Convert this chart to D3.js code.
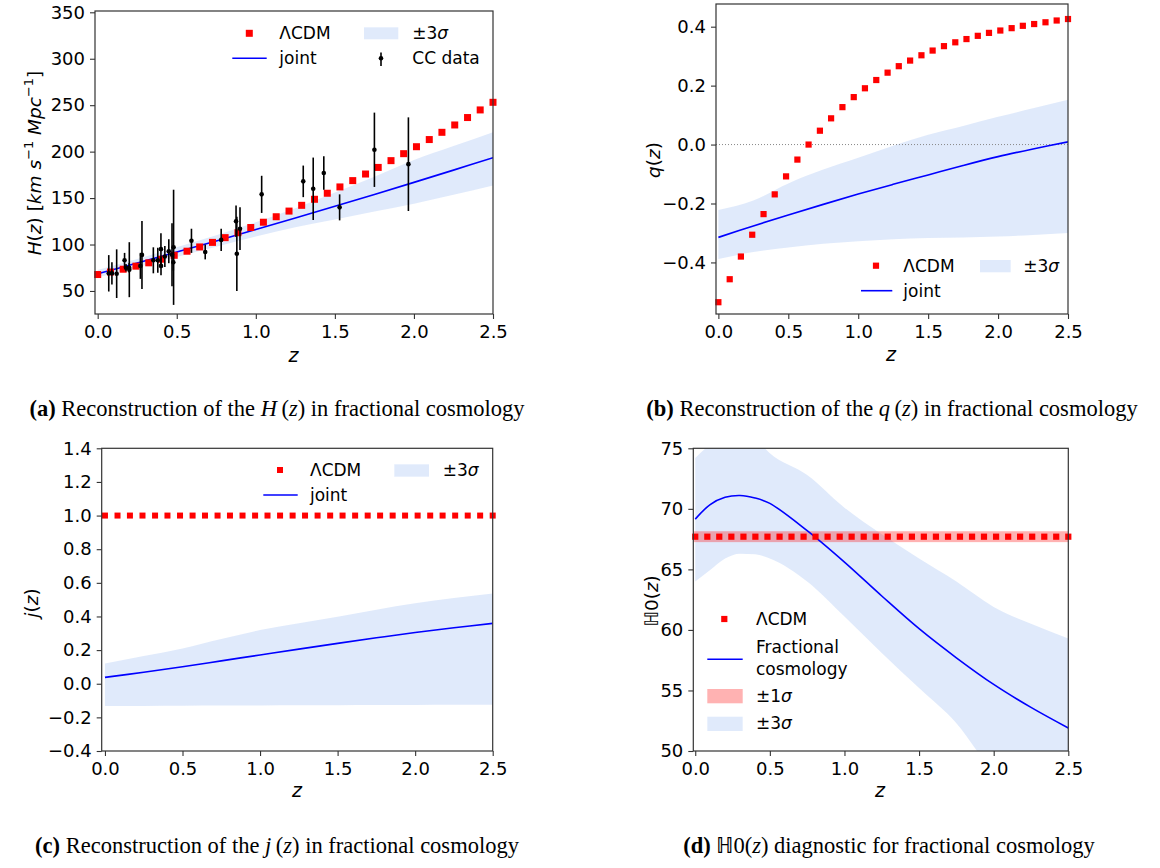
<!DOCTYPE html>
<html>
<head>
<meta charset="utf-8">
<script src="https://cdn.jsdelivr.net/npm/d3@7/dist/d3.min.js"></script>
<style>
body { margin: 0; background: #fff; }
svg { font-family: "DejaVu Sans", sans-serif; }
.cap { font-family: "Liberation Serif", "Times New Roman", serif; font-size: 22.5px; }
</style>
</head>
<body>
<svg width="1160" height="868"></svg>
<script>
var svg = d3.select('svg');

// LCDM reference curve, sampled every ~0.08 in z
var zLCDM = [0, 0.081, 0.161, 0.242, 0.323, 0.403, 0.484, 0.565, 0.645, 0.726, 0.806, 0.887, 0.968, 1.048, 1.129, 1.210,
             1.290, 1.371, 1.452, 1.532, 1.613, 1.694, 1.774, 1.855, 1.935, 2.016, 2.097, 2.177, 2.258, 2.339, 2.419, 2.5];
var hLCDM = [67.7, 70.4, 73.4, 76.7, 80.3, 84.2, 88.4, 92.8, 97.4, 102.3, 107.4, 112.7, 118.3, 124.0, 129.9, 136.0,
             142.2, 148.7, 155.2, 162.0, 168.8, 175.9, 183.0, 190.3, 197.8, 205.3, 213.0, 220.8, 228.7, 236.7, 244.9, 253.1];
var qLCDM = [-0.535, -0.457, -0.380, -0.306, -0.236, -0.169, -0.108, -0.051, 0.000, 0.047, 0.089, 0.127, 0.161, 0.191, 0.219, 0.244,
             0.266, 0.285, 0.303, 0.319, 0.334, 0.347, 0.358, 0.369, 0.379, 0.387, 0.395, 0.403, 0.409, 0.415, 0.421, 0.426];
var jLCDM = zLCDM.map(function(){ return 1.0; });
var diagLCDM = zLCDM.map(function(){ return 67.7; });
var diagLCDMlow = 67.25, diagLCDMhigh = 68.15;

// joint reconstruction (a, b, c)
var zGrid = [0, 0.25, 0.5, 0.75, 1, 1.25, 1.5, 1.75, 2, 2.25, 2.5];
var hJoint = [68.5, 80.1, 91.9, 103.9, 116.1, 128.5, 141.1, 153.9, 166.9, 180.1, 193.5];
var hUpper = [72.5, 84.5, 97, 110, 124, 139, 156, 173, 191, 206, 221];
var hLower = [64.5, 75.5, 86.5, 97.5, 108.5, 118.5, 127, 135.5, 144, 153.5, 163.5];

var qJoint = [-0.315, -0.276, -0.239, -0.203, -0.168, -0.135, -0.103, -0.071, -0.041, -0.015, 0.009];
var qUpper = [-0.222, -0.19, -0.132, -0.085, -0.045, -0.004, 0.033, 0.063, 0.094, 0.123, 0.152];
var qLower = [-0.388, -0.365, -0.349, -0.337, -0.328, -0.321, -0.317, -0.315, -0.312, -0.307, -0.300];

var jJoint = [0.038, 0.068, 0.101, 0.136, 0.171, 0.206, 0.240, 0.273, 0.305, 0.333, 0.359];
var jUpper = [0.121, 0.165, 0.210, 0.266, 0.319, 0.360, 0.398, 0.440, 0.478, 0.510, 0.537];
var jLower = [-0.133, -0.132, -0.131, -0.130, -0.129, -0.128, -0.128, -0.127, -0.126, -0.125, -0.125];

// H0 diagnostic (d)
var zDiag = [0, 0.1, 0.2, 0.3, 0.4, 0.5, 0.75, 1, 1.25, 1.5, 1.75, 2, 2.25, 2.5];
var diagLine = [69.15, 70.35, 70.95, 71.1, 70.9, 70.45, 68.2, 65.6, 62.8, 60.1, 57.7, 55.5, 53.6, 51.9];
var diagUpper = [74.2, 75.3, 76.0, 76.3, 75.8, 74.6, 72.8, 70.1, 67.9, 65.9, 64.0, 61.9, 60.5, 59.3];
var diagLower = [64.0, 64.95, 65.9, 66.3, 66.25, 65.9, 64.0, 61.1, 58.1, 55.2, 52.3, 48.2, 45.5, 43.0];

// cosmic chronometer data
var ccZ   = [0.07, 0.09, 0.12, 0.17, 0.179, 0.199, 0.2, 0.27, 0.28, 0.352, 0.3802, 0.4, 0.4004, 0.4247, 0.4497, 0.47,
             0.4783, 0.48, 0.593, 0.68, 0.781, 0.875, 0.88, 0.9, 1.037, 1.3, 1.363, 1.43, 1.53, 1.75, 1.965];
var ccH   = [69, 69, 68.6, 83, 75, 75, 72.9, 77, 88.8, 83, 83, 95, 77, 87.1, 92.8, 89,
             80.9, 97, 104, 92, 105, 125, 90, 117, 154, 168, 160, 177, 140, 202, 186.5];
var ccErr = [19.6, 12, 26.2, 8, 4, 5, 29.6, 14, 36.6, 14, 13.5, 17, 10.2, 11.2, 12.9, 34,
             9, 62, 13, 8, 12, 17, 40, 23, 20, 17, 33.6, 18, 14, 40, 50.4];

var xTicks = [0, 0.5, 1, 1.5, 2, 2.5];

var bandColor = 'cornflowerblue', bandOpacity = 0.2;

function panel(box, xDom, yDom, yTicks, yFmt, id){
  var x = d3.scaleLinear().domain(xDom).range([box.left, box.right]);
  var y = d3.scaleLinear().domain(yDom).range([box.bottom, box.top]);
  svg.append('clipPath').attr('id', id).append('rect')
    .attr('x', box.left).attr('y', box.top)
    .attr('width', box.right - box.left).attr('height', box.bottom - box.top);
  var g = svg.append('g');
  var plot = g.append('g').attr('clip-path', 'url(#' + id + ')');
  return {x: x, y: y, g: g, plot: plot, box: box, yTicks: yTicks, yFmt: yFmt};
}

function axes(p){
  var b = p.box;
  var ax = p.g.append('g').attr('transform', 'translate(0,' + b.bottom + ')')
    .call(d3.axisBottom(p.x).tickValues(xTicks).tickFormat(d3.format('.1f')).tickSize(5).tickPadding(6).tickSizeOuter(0));
  var ay = p.g.append('g').attr('transform', 'translate(' + b.left + ',0)')
    .call(d3.axisLeft(p.y).tickValues(p.yTicks).tickFormat(d3.format(p.yFmt)).tickSize(5).tickPadding(5).tickSizeOuter(0));
  [ax, ay].forEach(function(a){
    a.select('.domain').remove();
    a.selectAll('line').attr('stroke', '#333').attr('stroke-width', 1.1);
    a.selectAll('text').attr('font-size', 18).attr('font-family', '"DejaVu Sans", sans-serif').attr('fill', '#000');
  });
  p.g.append('rect').attr('x', b.left).attr('y', b.top)
    .attr('width', b.right - b.left).attr('height', b.bottom - b.top)
    .attr('fill', 'none').attr('stroke', '#333').attr('stroke-width', 1.2);
}

function band(p, zs, lo, hi){
  var area = d3.area().x(function(d, i){ return p.x(zs[i]); })
    .y0(function(d, i){ return p.y(lo[i]); })
    .y1(function(d, i){ return p.y(hi[i]); })
    .curve(d3.curveMonotoneX);
  p.plot.append('path').datum(zs).attr('d', area).attr('fill', bandColor).attr('fill-opacity', bandOpacity);
}

function line(p, zs, vals){
  var ln = d3.line().x(function(d, i){ return p.x(zs[i]); })
    .y(function(d, i){ return p.y(vals[i]); })
    .curve(d3.curveCatmullRom.alpha(0.5));
  p.plot.append('path').datum(zs).attr('d', ln).attr('fill', 'none').attr('stroke', '#0000ff').attr('stroke-width', 1.6);
}

function squares(p, zs, vals, s){
  p.g.selectAll(null).data(zs).enter().append('rect')
    .attr('x', function(d){ return p.x(d) - s / 2; })
    .attr('y', function(d, i){ return p.y(vals[i]) - s / 2; })
    .attr('width', s).attr('height', s).attr('fill', '#ff0000');
}

// legend helpers (pixel positions)
function legText(x, y, parts, size){
  var t = svg.append('text').attr('x', x).attr('y', y + 6).attr('font-size', size || 17);
  parts.forEach(function(pt){
    var s = t.append('tspan').text(pt[0]);
    if (pt[1]) s.attr('font-style', 'italic');
  });
}
function legSquare(x, y, s){
  svg.append('rect').attr('x', x - s / 2).attr('y', y - s / 2).attr('width', s).attr('height', s).attr('fill', '#ff0000');
}
function legLine(x1, x2, y){
  svg.append('line').attr('x1', x1).attr('x2', x2).attr('y1', y).attr('y2', y).attr('stroke', '#0000ff').attr('stroke-width', 1.6);
}
function legBand(x1, x2, y1, y2, col, op){
  svg.append('rect').attr('x', x1).attr('y', y1).attr('width', x2 - x1).attr('height', y2 - y1)
    .attr('fill', col).attr('fill-opacity', op);
}

function rotLabel(x, y, parts, size){
  var t = svg.append('text').attr('transform', 'translate(' + x + ',' + y + ') rotate(-90)')
    .attr('text-anchor', 'middle').attr('dominant-baseline', 'central').attr('font-size', size || 18);
  parts.forEach(function(pt){
    var s = t.append('tspan').text(pt[0]);
    if (pt[1] === 'i') s.attr('font-style', 'italic');
    if (pt[1] === 'sup') s.attr('font-size', (size || 18) * 0.7).attr('baseline-shift', '40%');
  });
}
function zLabel(x, y){
  svg.append('text').attr('x', x).attr('y', y).attr('text-anchor', 'middle')
    .attr('font-size', 19).attr('font-style', 'italic').text('z');
}

var sigma3 = [['±3', false], ['σ', true]];
var sigma1 = [['±1', false], ['σ', true]];

// ---------- (a) H(z) ----------
var pa = panel({left: 95, right: 493, top: 11, bottom: 314}, [-0.017, 2.5], [25.2, 351.4],
               [50, 100, 150, 200, 250, 300, 350], 'd', 'clipA');
band(pa, zGrid, hLower, hUpper);
squares(pa, zLCDM, hLCDM, 7);
line(pa, zGrid, hJoint);
pa.g.selectAll(null).data(ccZ).enter().append('line')
  .attr('x1', function(d){ return pa.x(d); }).attr('x2', function(d){ return pa.x(d); })
  .attr('y1', function(d, i){ return pa.y(ccH[i] - ccErr[i]); })
  .attr('y2', function(d, i){ return pa.y(ccH[i] + ccErr[i]); })
  .attr('stroke', '#000').attr('stroke-width', 1.6);
pa.g.selectAll(null).data(ccZ).enter().append('circle')
  .attr('cx', function(d){ return pa.x(d); })
  .attr('cy', function(d, i){ return pa.y(ccH[i]); })
  .attr('r', 2.3).attr('fill', '#000');
axes(pa);
legSquare(249.3, 33.3, 7);
legText(279.3, 33.3, [['ΛCDM', false]]);
legBand(364, 398.3, 27.3, 39.3, bandColor, bandOpacity);
legText(412.3, 33.3, sigma3);
legLine(232.3, 266.7, 58.3);
legText(279.3, 58.3, [['joint', false]]);
svg.append('line').attr('x1', 381).attr('x2', 381).attr('y1', 52.5).attr('y2', 66).attr('stroke', '#000').attr('stroke-width', 1.6);
svg.append('circle').attr('cx', 381).attr('cy', 58.3).attr('r', 2.3).attr('fill', '#000');
legText(412.3, 58.3, [['CC data', false]]);
rotLabel(34, 163, [['H', 'i'], ['(', ''], ['z', 'i'], [') [', ''], ['km', 'i'], [' ', ''], ['s', 'i'], ['−1', 'sup'],
                   [' ', ''], ['Mpc', 'i'], ['−1', 'sup'], [']', '']], 18.5);
zLabel(293.5, 362);

// ---------- (b) q(z) ----------
var pb = panel({left: 716, right: 1068, top: 4, bottom: 314}, [-0.017, 2.5], [-0.575, 0.477],
               [-0.4, -0.2, 0, 0.2, 0.4], '.1f', 'clipB');
band(pb, zGrid, qLower, qUpper);
pb.plot.append('line').attr('x1', pb.box.left).attr('x2', pb.box.right)
  .attr('y1', pb.y(0)).attr('y2', pb.y(0))
  .attr('stroke', '#888').attr('stroke-width', 1).attr('stroke-dasharray', '1,2');
line(pb, zGrid, qJoint);
squares(pb, zLCDM, qLCDM, 6.2);
axes(pb);
legSquare(876, 265.7, 6.2);
legText(903.3, 265.7, [['ΛCDM', false]]);
legBand(980, 1010.7, 260, 272.3, bandColor, bandOpacity);
legText(1023.3, 265.7, sigma3);
legLine(861, 892.3, 290.7);
legText(903.3, 290.7, [['joint', false]]);
rotLabel(653, 160, [['q', 'i'], ['(', ''], ['z', 'i'], [')', '']], 18.5);
zLabel(891, 361);

// ---------- (c) j(z) ----------
var pc = panel({left: 101.7, right: 492.7, top: 448.3, bottom: 751}, [-0.021, 2.5], [-0.4, 1.4],
               [-0.4, -0.2, 0, 0.2, 0.4, 0.6, 0.8, 1.0, 1.2, 1.4], '.1f', 'clipC');
band(pc, zGrid, jLower, jUpper);
line(pc, zGrid, jJoint);
squares(pc, zLCDM, jLCDM, 6);
axes(pc);
legSquare(280, 470, 6);
legText(310, 470, [['ΛCDM', false]]);
legBand(394.3, 429, 464.3, 476.7, bandColor, bandOpacity);
legText(442.7, 470, sigma3);
legLine(263.3, 297.7, 495);
legText(310, 495, [['joint', false]]);
rotLabel(31, 603, [['j', 'i'], ['(', ''], ['z', 'i'], [')', '']], 18.5);
zLabel(297, 797);

// ---------- (d) H0(z) diagnostic ----------
var pd = panel({left: 693.3, right: 1068.3, top: 448.3, bottom: 751}, [-0.013, 2.5], [50, 75],
               [50, 55, 60, 65, 70, 75], 'd', 'clipD');
band(pd, zDiag, diagLower, diagUpper);
pd.plot.append('rect').attr('x', pd.box.left).attr('width', pd.box.right - pd.box.left)
  .attr('y', pd.y(diagLCDMhigh)).attr('height', pd.y(diagLCDMlow) - pd.y(diagLCDMhigh))
  .attr('fill', '#ff0000').attr('fill-opacity', 0.3);
line(pd, zDiag, diagLine);
squares(pd, zLCDM, diagLCDM, 6.2);
axes(pd);
legSquare(724.3, 619, 6.2);
legText(756, 619, [['ΛCDM', false]]);
legText(756, 647.3, [['Fractional', false]]);
legText(756, 668.7, [['cosmology', false]]);
legLine(707.3, 742.7, 659.3);
legBand(707.3, 742.7, 689, 703.3, '#ff0000', 0.3);
legText(756, 695.7, sigma1);
legBand(707.3, 742.7, 716.7, 731, bandColor, bandOpacity);
legText(756, 723.3, sigma3);
rotLabel(651, 601, [['ℍ0', ''], ['(', ''], ['z', 'i'], [')', '']], 18.5);
zLabel(880, 797);

// ---------- captions ----------
function caption(cx, y, parts){
  var t = svg.append('text').attr('class', 'cap').attr('x', cx).attr('y', y).attr('text-anchor', 'middle');
  parts.forEach(function(pt){
    var s = t.append('tspan').text(pt[0]);
    if (pt[1] === 'b') s.attr('font-weight', 'bold');
    if (pt[1] === 'i') s.attr('font-style', 'italic');
  });
}
caption(277, 416, [['(a)', 'b'], [' Reconstruction of the ', ''], ['H', 'i'], ['\u2009(', ''], ['z', 'i'], [')', ''], [' in fractional cosmology', '']]);
caption(892, 416, [['(b)', 'b'], [' Reconstruction of the ', ''], ['q', 'i'], ['\u2009(', ''], ['z', 'i'], [')', ''], [' in fractional cosmology', '']]);
caption(277, 853, [['(c)', 'b'], [' Reconstruction of the ', ''], ['j', 'i'], ['\u2009(', ''], ['z', 'i'], [')', ''], [' in fractional cosmology', '']]);
caption(889, 853, [['(d)', 'b'], [' ℍ0(', ''], ['z', 'i'], [')', ''], [' diagnostic for fractional cosmology', '']]);
</script>
</body>
</html>
